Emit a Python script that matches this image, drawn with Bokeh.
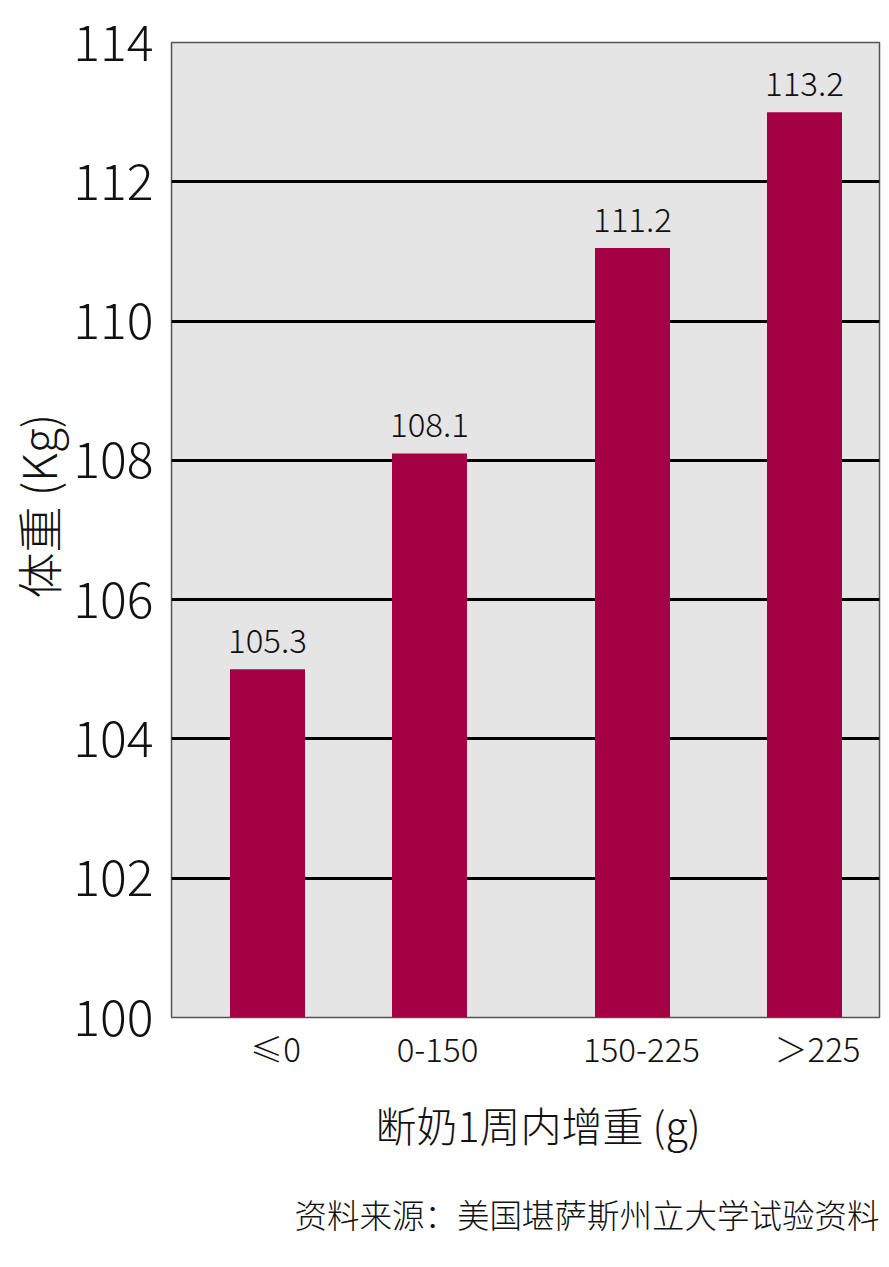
from bokeh.plotting import figure
from bokeh.models import Range1d, FixedTicker, ColumnDataSource, LabelSet, Title
from bokeh.core.properties import value
from bokeh.embed import file_html
from bokeh.resources import INLINE

# ---- data ----
categories = ["≤0", "0-150", "150-225", "＞225"]
bar_values = [105.0, 108.1, 111.05, 113.0]
value_labels = ["105.3", "108.1", "111.2", "113.2"]
y_ticks = [100, 102, 104, 106, 108, 110, 112, 114]

# ---- layout (positions in px within the plot frame) ----
bar_pos = [96, 258, 461, 633]
tick_pos = [104, 266, 470, 646]

FONT = "Noto Sans CJK SC Light, Noto Sans CJK SC"
BAR_COLOR = "#a50044"
TXT = "#111111"

p = figure(width=881, height=1258, output_backend="svg", toolbar_location=None,
           x_range=Range1d(0, 708), y_range=Range1d(100, 114),
           min_border_left=171, min_border_right=2, min_border_top=42,
           min_border_bottom=241)

p.background_fill_color = "#e5e5e5"
p.border_fill_color = "white"
p.outline_line_color = "#555555"
p.outline_line_width = 1.5

src = ColumnDataSource(dict(x=bar_pos, top=bar_values, lab=value_labels))
p.vbar(x="x", top="top", bottom=100, width=75, source=src,
       fill_color=BAR_COLOR, line_color=None)

labels = LabelSet(x="x", y="top", text="lab", source=src, y_offset=16,
                  text_align="center", text_baseline="alphabetic",
                  text_font=value(FONT), text_font_size="33px", text_color=TXT)
p.add_layout(labels)

# grids
p.xgrid.visible = False
p.ygrid.ticker = FixedTicker(ticks=y_ticks[1:-1])
p.ygrid.grid_line_color = "black"
p.ygrid.grid_line_width = 3

# y axis
p.yaxis.ticker = FixedTicker(ticks=y_ticks)
p.yaxis.axis_line_color = None
p.yaxis.major_tick_line_color = None
p.yaxis.minor_tick_line_color = None
p.yaxis.major_label_text_font = FONT
p.yaxis.major_label_text_font_size = "50px"
p.yaxis.major_label_text_color = TXT
p.yaxis.major_label_standoff = 12

ytitle = Title(text="体重 (Kg)", align="left", offset=419, standoff=1,
               text_font=FONT, text_font_size="46px", text_font_style="normal",
               text_color=TXT)
p.add_layout(ytitle, "left")

# x axis
p.xaxis.ticker = FixedTicker(ticks=tick_pos)
p.xaxis.major_label_overrides = {t: c for t, c in zip(tick_pos, categories)}
p.xaxis.axis_line_color = None
p.xaxis.major_tick_line_color = None
p.xaxis.minor_tick_line_color = None
p.xaxis.major_label_text_font = FONT
p.xaxis.major_label_text_font_size = "33px"
p.xaxis.major_label_text_color = TXT
p.xaxis.major_label_standoff = 0

xtitle = Title(text="断奶1周内增重 (g)", align="left", offset=204, standoff=35,
               text_font=FONT, text_font_size="41px", text_font_style="normal",
               text_color=TXT)
p.add_layout(xtitle, "below")

note = Title(text="资料来源：美国堪萨斯州立大学试验资料", align="right",
             text_font=FONT, text_font_size="32.5px", text_font_style="normal",
             text_color=TXT, offset=0, standoff=33)
p.add_layout(note, "below")

open("out.html", "w").write(file_html(p, INLINE))
